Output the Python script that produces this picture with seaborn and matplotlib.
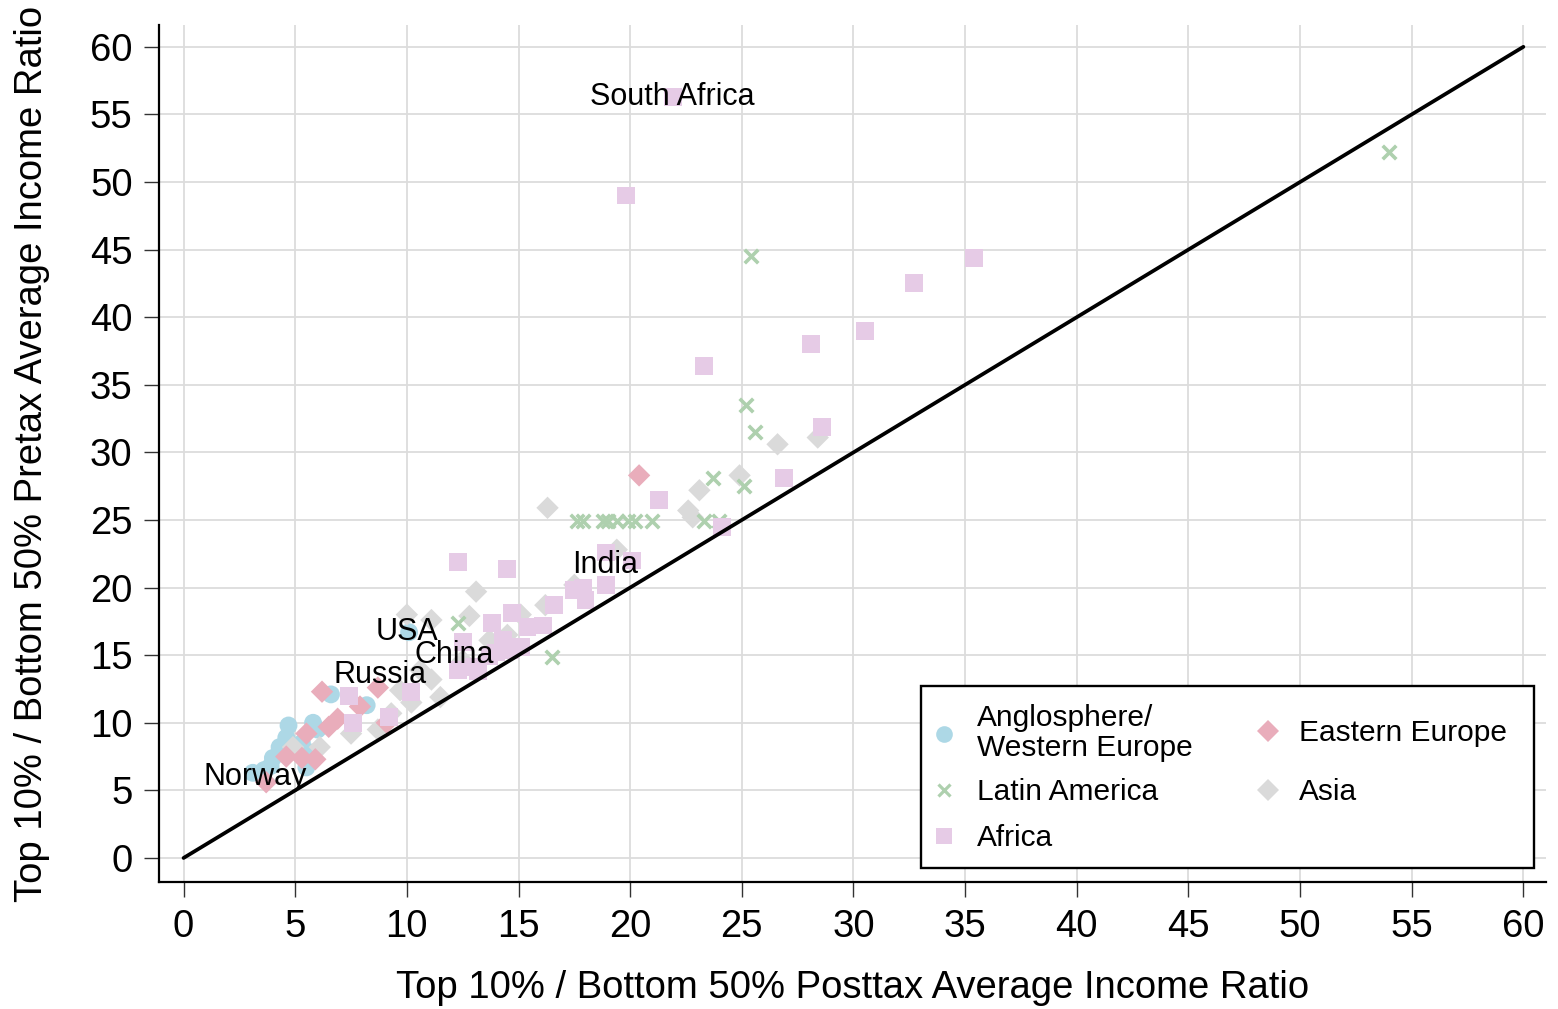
import matplotlib
matplotlib.use("Agg")
import matplotlib.pyplot as plt
from matplotlib.lines import Line2D
from matplotlib.patches import Rectangle
from matplotlib.legend import Legend
import seaborn as sns
import pandas as pd

# ---------------- data ----------------
anglo_x = [10.1, 6.6, 8.2, 5.8, 4.7, 4.6, 4.3, 4.0, 5.5, 3.1, 3.6, 5.7, 5.3, 3.9, 6.0]
anglo_y = [16.7, 12.1, 11.3, 10.0, 9.8, 8.9, 8.2, 7.4, 6.7, 6.3, 6.5, 7.8, 8.5, 6.8, 9.5]

east_x = [20.4, 6.2, 8.7, 7.9, 6.9, 6.5, 5.5, 4.6, 5.3, 5.9, 3.7, 9.1]
east_y = [28.3, 12.3, 12.6, 11.2, 10.3, 9.7, 9.2, 7.5, 7.4, 7.3, 5.6, 10.0]

asia_x = [28.4, 26.6, 24.9, 23.1, 22.6, 22.8, 16.3, 19.4, 13.1, 10.0, 11.1, 12.8, 16.2,
          17.5, 15.1, 14.5, 13.7, 11.1, 11.5, 10.6, 9.7, 10.2, 9.3, 8.7, 7.5, 6.1, 4.9,
          14.2, 12.5]
asia_y = [31.1, 30.6, 28.3, 27.2, 25.7, 25.2, 25.9, 22.8, 19.7, 18.0, 17.6, 17.9, 18.7,
          20.2, 18.0, 16.5, 16.1, 13.2, 11.9, 13.9, 12.4, 11.5, 10.7, 9.5, 9.2, 8.2, 8.2,
          15.5, 14.6]

latin_x = [54.0, 25.4, 25.2, 25.6, 23.7, 25.1, 17.6, 17.9, 18.8, 19.0, 19.4, 19.9, 20.2,
           21.0, 23.3, 24.0, 12.3, 16.5]
latin_y = [52.2, 44.5, 33.5, 31.5, 28.1, 27.5, 24.9, 24.9, 24.9, 24.9, 24.9, 24.9, 24.9,
           24.9, 24.9, 24.9, 17.4, 14.9]

africa_x = [21.9, 19.8, 35.4, 32.7, 30.5, 28.1, 23.3, 28.6, 26.9, 21.3, 24.1, 18.9, 20.1,
            12.3, 14.5, 17.9, 18.0, 18.9, 16.6, 16.1, 14.7, 13.8, 15.4, 14.3, 14.6, 14.0,
            13.0, 12.3, 12.5, 17.5, 7.4, 7.6, 9.2, 10.2, 13.2, 13.7, 15.1]
africa_y = [56.3, 49.0, 44.4, 42.5, 39.0, 38.0, 36.4, 31.9, 28.1, 26.5, 24.5, 22.6, 22.0,
            21.9, 21.4, 20.0, 19.1, 20.2, 18.7, 17.2, 18.1, 17.4, 17.1, 16.1, 15.4, 15.2,
            14.1, 13.9, 16.0, 19.8, 12.0, 10.0, 10.4, 12.3, 13.8, 14.9, 15.6]

label_names = ["South Africa", "India", "USA", "China", "Russia", "Norway"]
label_x = [21.9, 18.9, 10.0, 12.1, 8.8, 3.2]
label_y = [56.3, 21.7, 16.7, 15.0, 13.5, 6.0]

line_x = [0, 60]
line_y = [0, 60]

ticks = list(range(0, 61, 5))

# ---------------- style ----------------
sns.set_theme(style="whitegrid")
plt.rcParams["font.family"] = ["Liberation Sans", "DejaVu Sans"]
plt.rcParams["text.color"] = "black"
plt.rcParams["axes.labelcolor"] = "black"
plt.rcParams["xtick.color"] = "black"
plt.rcParams["ytick.color"] = "black"

FIG_W, FIG_H = 1558, 1009
AX_L, AX_R, AX_B, AX_T = 159, 1545.7, 882.3, 25.2

fig = plt.figure(figsize=(FIG_W / 100, FIG_H / 100), dpi=100)
ax = fig.add_axes([AX_L / FIG_W, 1 - AX_B / FIG_H,
                   (AX_R - AX_L) / FIG_W, (AX_B - AX_T) / FIG_H])


def axx(px):
    return (px - AX_L) / (AX_R - AX_L)


def axy(py):
    return (AX_B - py) / (AX_B - AX_T)


C_ANGLO = "#add8e6"
C_LATIN = "#aed0ae"
C_AFRICA = "#e6cbe6"
C_EAST = "#e9adbb"
C_ASIA = "#dadada"

regions = [
    (anglo_x, anglo_y, "o", C_ANGLO, 165),
    (asia_x, asia_y, "D", C_ASIA, 130),
    (east_x, east_y, "D", C_EAST, 130),
    (latin_x, latin_y, "x", C_LATIN, 95),
    (africa_x, africa_y, "s", C_AFRICA, 165),
]

for xs, ys, mk, col, sz in regions:
    df = pd.DataFrame({"x": xs, "y": ys})
    if mk == "x":
        sns.scatterplot(data=df, x="x", y="y", marker=mk, color=col, s=sz,
                        linewidth=2.6, ax=ax, legend=False, zorder=3)
    else:
        sns.scatterplot(data=df, x="x", y="y", marker=mk, color=col, s=sz,
                        linewidth=0, edgecolor="none", ax=ax, legend=False, zorder=3)

sns.lineplot(x=line_x, y=line_y, color="black", linewidth=2.7, ax=ax, zorder=4)

for nm, lx, ly in zip(label_names, label_x, label_y):
    ax.text(lx, ly, nm, ha="center", va="center", fontsize=22, color="black", zorder=5)

ax.set_xlim(-1.1, 61.0)
ax.set_ylim(-1.8, 61.6)
ax.set_xticks(ticks)
ax.set_yticks(ticks)
ax.tick_params(axis="both", labelsize=27.5, length=11, width=1.0, color="#333333",
               labelcolor="black", direction="out", bottom=True, left=True, pad=8)
ax.grid(True, color="#dcdcdc", linewidth=1.3)
for side in ["top", "right"]:
    ax.spines[side].set_visible(False)
for side in ["left", "bottom"]:
    ax.spines[side].set_color("black")
    ax.spines[side].set_linewidth(1.6)

ax.set_xlabel("Top 10% / Bottom 50% Posttax Average Income Ratio", fontsize=27.5,
              labelpad=18, color="black")
ax.set_ylabel("Top 10% / Bottom 50% Pretax Average Income Ratio", fontsize=27.5,
              labelpad=29, color="black")

# ---------------- legend ----------------
frame = Rectangle((axx(921), axy(868)), axx(1534) - axx(921), axy(686) - axy(868),
                  transform=ax.transAxes, facecolor="white", edgecolor="black",
                  linewidth=1.7, zorder=8, clip_on=False)
ax.add_patch(frame)

LEG_FS = 21.5
fs_px = LEG_FS * 100 / 72
leg_items = [
    ("Anglosphere/\nWestern Europe", "o", C_ANGLO, 944, 733),
    ("Latin America", "x", C_LATIN, 944, 792),
    ("Africa", "s", C_AFRICA, 944, 838),
    ("Eastern Europe", "D", C_EAST, 1268, 733),
    ("Asia", "D", C_ASIA, 1268, 792),
]
for name, mk, col, cx, cy in leg_items:
    if mk == "x":
        h = Line2D([], [], linestyle="none", marker=mk, color=col, markersize=9,
                   markeredgewidth=2.3)
    elif mk == "D":
        h = Line2D([], [], linestyle="none", marker=mk, color=col, markersize=11,
                   markeredgewidth=0)
    else:
        h = Line2D([], [], linestyle="none", marker=mk, color=col, markersize=12,
                   markeredgewidth=0)
    left = cx - fs_px / 2
    text_start = 977 if cx < 1000 else 1299
    pad = (text_start - left - fs_px) / fs_px
    leg = Legend(ax, [h], [name], loc="center left",
                 bbox_to_anchor=(axx(left), axy(cy)), bbox_transform=ax.transAxes,
                 borderaxespad=0, borderpad=0, frameon=False, fontsize=LEG_FS,
                 handlelength=1.0, handletextpad=pad)
    for t in leg.get_texts():
        t.set_linespacing(1.05)
        t.set_color("black")
    leg.set_zorder(9)
    ax.add_artist(leg)

fig.savefig("out.png", dpi=100)
